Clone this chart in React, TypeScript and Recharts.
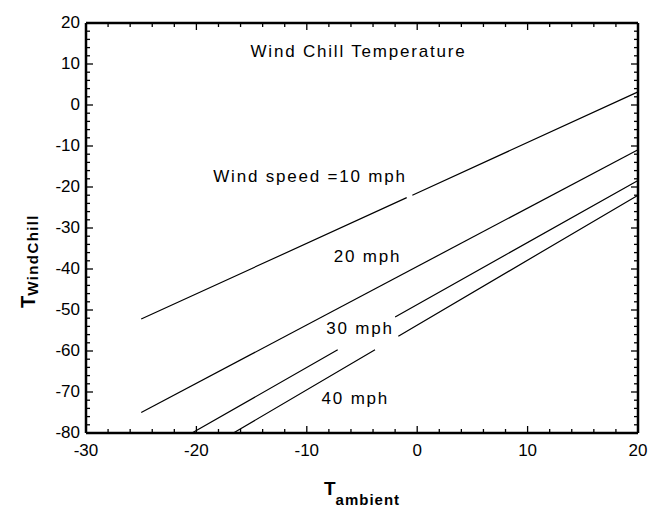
import React from 'react';
import {
    LineChart,
    Line,
    XAxis,
    YAxis,
    ReferenceDot,
    ReferenceLine,
} from 'recharts';

// ambient temperature (t) vs wind chill temperature (v), one list per wind speed;
// null rows leave the gaps where the labels cross the lines
const chill10 = [
    { t: -25, v: -52.2 },
    { t: -0.95, v: -22.6 },
    { t: -0.7, v: null },
    { t: -0.44, v: -22.0 },
    { t: 20, v: 3.2 },
];
const chill20 = [
    { t: -25, v: -75 },
    { t: 20, v: -10.9 },
];
const chill30 = [
    { t: -20.4, v: -80 },
    { t: -7.2, v: -59.7 },
    { t: -4.6, v: null },
    { t: -2.0, v: -51.7 },
    { t: 20, v: -18.4 },
];
const chill40 = [
    { t: -16.65, v: -80 },
    { t: -3.82, v: -59.7 },
    { t: -2.8, v: null },
    { t: -1.71, v: -56.4 },
    { t: 20, v: -22 },
];
const series = [chill10, chill20, chill30, chill40];

const xTicks = [-30, -28, -26, -24, -22, -20, -18, -16, -14, -12, -10, -8, -6, -4, -2, 0, 2, 4, 6, 8, 10, 12, 14, 16, 18, 20];
const yTicks = [-80, -78, -76, -74, -72, -70, -68, -66, -64, -62, -60, -58, -56, -54, -52, -50, -48, -46, -44, -42, -40, -38, -36, -34, -32, -30, -28, -26, -24, -22, -20, -18, -16, -14, -12, -10, -8, -6, -4, -2, 0, 2, 4, 6, 8, 10, 12, 14, 16, 18, 20];

const titleText = 'Wind Chill Temperature';
const annotations = [
    { t: -5.32, v: 13.3, text: titleText },
    { t: -9.71, v: -17.4, text: 'Wind speed =10 mph' },
    { t: -4.5, v: -36.7, text: '20 mph' },
    { t: -5.18, v: -54.5, text: '30 mph' },
    { t: -5.6, v: -71.4, text: '40 mph' },
];

const X_MIN = -30;
const X_MAX = 20;
const Y_MIN = -80;
const Y_MAX = 20;

// chart geometry
const W = 649;
const H = 508;
const M = { top: 23, right: 11, bottom: 0, left: 0 };
const Y_AXIS_W = 86;
const X_AXIS_H = 75;
const PLOT_W = W - M.left - M.right - Y_AXIS_W;
const PLOT_H = H - M.top - M.bottom - X_AXIS_H;
const X_PER_PX = (X_MAX - X_MIN) / PLOT_W;
const Y_PER_PX = (Y_MAX - Y_MIN) / PLOT_H;

const FONT = '"Liberation Sans", Arial, sans-serif';
const INK = 'black';

const isMajor = (v: number) => v % 10 === 0;
const tickLen = (v: number) => (isMajor(v) ? 7 : 4);

// inward tick marks on all four edges, as reference line segments
const xTickMarks = xTicks.flatMap((v) => {
    const d = tickLen(v) * Y_PER_PX;
    return [
        [{ x: v, y: Y_MIN }, { x: v, y: Y_MIN + d }],
        [{ x: v, y: Y_MAX }, { x: v, y: Y_MAX - d }],
    ];
});
const yTickMarks = yTicks.flatMap((v) => {
    const d = tickLen(v) * X_PER_PX;
    return [
        [{ x: X_MIN, y: v }, { x: X_MIN + d, y: v }],
        [{ x: X_MAX, y: v }, { x: X_MAX - d, y: v }],
    ];
});
const tickMarks = [...xTickMarks, ...yTickMarks];

const XTick = (props: any) => {
    const { x, y, payload } = props;
    if (!isMajor(payload.value)) return <g />;
    return (
        <text x={x} y={y + 23} textAnchor="middle" fontSize={17} fontFamily={FONT} fill={INK}>
            {payload.value}
        </text>
    );
};

const YTick = (props: any) => {
    const { x, y, payload } = props;
    if (!isMajor(payload.value)) return <g />;
    return (
        <text x={x - 6} y={y + 5} textAnchor="end" fontSize={17} fontFamily={FONT} fill={INK}>
            {payload.value}
        </text>
    );
};

const XTitle = (props: any) => {
    const { viewBox } = props;
    const cx = viewBox.x + viewBox.width / 2;
    return (
        <text x={cx} y={viewBox.y + 62} textAnchor="middle" fontFamily={FONT} fontWeight="bold" fill={INK}>
            <tspan fontSize={19}>T</tspan>
            <tspan fontSize={15} dy={10} letterSpacing={1}>ambient</tspan>
        </text>
    );
};

const YTitle = (props: any) => {
    const { viewBox } = props;
    const cy = viewBox.y + viewBox.height / 2 + 33;
    const bx = 35;
    return (
        <text
            x={bx}
            y={cy}
            transform={`rotate(-90, ${bx}, ${cy})`}
            textAnchor="middle"
            fontFamily={FONT}
            fontWeight="bold"
            fill={INK}
        >
            <tspan fontSize={20}>T</tspan>
            <tspan fontSize={15} dy={3} letterSpacing={1.4}>WindChill</tspan>
        </text>
    );
};

const App: React.FC = () => {
    return (
        <div style={{ position: 'absolute', left: 0, top: 0, background: 'white' }}>
            <LineChart width={W} height={H} margin={M}>
                <XAxis
                    dataKey="t"
                    type="number"
                    domain={[X_MIN, X_MAX]}
                    ticks={xTicks}
                    interval={0}
                    height={X_AXIS_H}
                    tickSize={0}
                    tickMargin={0}
                    tickLine={false}
                    axisLine={{ stroke: INK, strokeWidth: 2.5 }}
                    tick={<XTick />}
                    label={<XTitle />}
                />
                <YAxis
                    type="number"
                    domain={[Y_MIN, Y_MAX]}
                    ticks={yTicks}
                    interval={0}
                    width={Y_AXIS_W}
                    tickSize={0}
                    tickMargin={0}
                    tickLine={false}
                    axisLine={{ stroke: INK, strokeWidth: 2.5 }}
                    tick={<YTick />}
                    label={<YTitle />}
                />
                <ReferenceLine x={X_MAX} stroke={INK} strokeWidth={2.5} ifOverflow="visible" />
                <ReferenceLine y={Y_MAX} stroke={INK} strokeWidth={2.5} ifOverflow="visible" />
                {tickMarks.map((seg, i) => (
                    <ReferenceLine
                        key={`tick-${i}`}
                        segment={seg}
                        stroke={INK}
                        strokeWidth={1.3}
                        ifOverflow="visible"
                    />
                ))}
                {series.map((data, i) => (
                    <Line
                        key={i}
                        data={data}
                        dataKey="v"
                        type="linear"
                        stroke={INK}
                        strokeWidth={1.2}
                        dot={false}
                        activeDot={false}
                        connectNulls={false}
                        isAnimationActive={false}
                    />
                ))}
                {annotations.map((a, i) => (
                    <ReferenceDot
                        key={i}
                        x={a.t}
                        y={a.v}
                        r={0}
                        fill="none"
                        stroke="none"
                        label={{
                            value: a.text,
                            position: 'center',
                            fontSize: 17,
                            fontFamily: FONT,
                            fill: INK,
                            letterSpacing: 1.8,
                        }}
                    />
                ))}
            </LineChart>
        </div>
    );
};

export default App;
